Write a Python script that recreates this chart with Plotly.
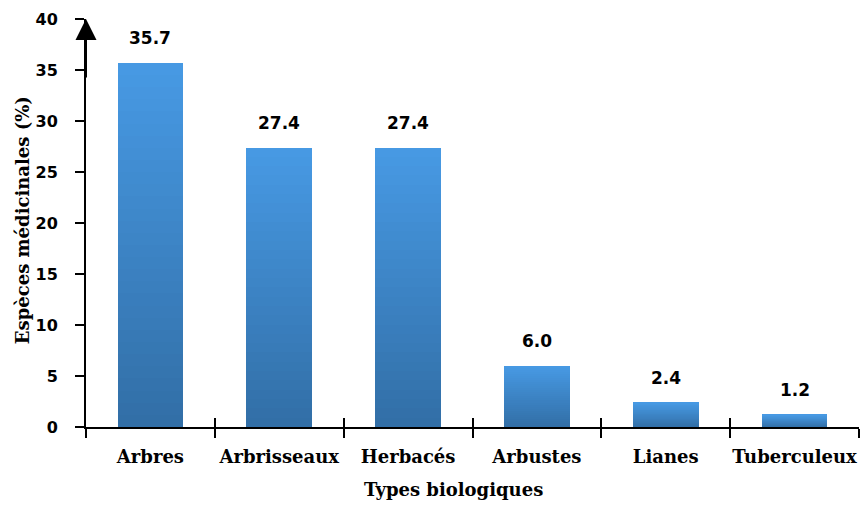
import plotly.graph_objects as go

# Biological types of the medicinal species and their share (%)
categories = ["Arbres", "Arbrisseaux", "Herbacés", "Arbustes", "Lianes", "Tuberculeux"]
shares = [35.7, 27.4, 27.4, 6.0, 2.4, 1.2]
y_ticks = [0, 5, 10, 15, 20, 25, 30, 35, 40]

TOP = (71, 153, 227)     # light blue at the top of each bar
BOTTOM = (50, 111, 167)  # darker blue at the bottom
N_STEPS = 30

fig = go.Figure()

# Each bar is built from stacked slices so the fill fades from dark to light blue
for k in range(N_STEPS):
    t = k / (N_STEPS - 1)
    rgb = tuple(round(b + (a - b) * t) for a, b in zip(TOP, BOTTOM))
    fig.add_trace(go.Bar(
        x=categories,
        y=[v / N_STEPS for v in shares],
        width=0.51,
        marker=dict(color="rgb(%d,%d,%d)" % rgb, line=dict(width=0)),
        showlegend=False,
        hoverinfo="skip",
    ))

# Invisible trace carrying the secondary x axis (inner half of the crossing ticks)
fig.add_trace(go.Scatter(x=categories, y=shares, xaxis="x2", mode="markers",
                         marker=dict(opacity=0), showlegend=False, hoverinfo="skip"))

# Value labels above each bar
for c, v in zip(categories, shares):
    fig.add_annotation(x=c, y=v, text="%.1f" % v, showarrow=False, yshift=25,
                       yanchor="middle",
                       font=dict(family="DejaVu Sans", size=17, color="black", weight="bold"))

# Arrow head on top of the vertical axis
fig.add_annotation(xref="paper", x=0, yref="y", y=40, ax=0, ay=60, axref="pixel", ayref="pixel",
                   showarrow=True, arrowhead=2, arrowsize=2.1, arrowwidth=2, arrowcolor="black",
                   text="")

# Axis titles
fig.add_annotation(xref="paper", yref="paper", x=0.476, y=-0.154, text="Types biologiques",
                   showarrow=False, xanchor="center", yanchor="middle",
                   font=dict(family="DejaVu Serif", size=18, color="black", weight="bold"))
fig.add_annotation(xref="paper", yref="paper", x=-0.0828, y=0.507, text="Espèces médicinales (%)",
                   showarrow=False, textangle=-90, xanchor="center", yanchor="middle",
                   font=dict(family="DejaVu Serif", size=18, color="black", weight="bold"))

fig.update_layout(
    width=860, height=507,
    margin=dict(l=86, r=1, t=19, b=80),
    paper_bgcolor="white", plot_bgcolor="white",
    barmode="stack",
    xaxis=dict(
        type="category", categoryorder="array", categoryarray=categories,
        showline=True, linecolor="black", linewidth=2,
        ticks="outside", tickson="boundaries", ticklen=9, tickwidth=2, tickcolor="black",
        showgrid=False, zeroline=False, tickangle=0, automargin=False,
        ticklabelstandoff=12,
        tickfont=dict(family="DejaVu Serif", size=18, color="black", weight="bold"),
    ),
    xaxis2=dict(
        type="category", categoryorder="array", categoryarray=categories,
        overlaying="x", matches="x", side="bottom", anchor="y",
        showline=False, ticks="inside", tickson="boundaries", ticklen=9, tickwidth=2,
        tickcolor="black", showticklabels=False, showgrid=False, zeroline=False,
        automargin=False,
    ),
    yaxis=dict(
        range=[0, 40], tickvals=y_ticks,
        showline=True, linecolor="black", linewidth=2,
        ticks="outside", ticklen=9, tickwidth=2, tickcolor="black",
        showgrid=False, zeroline=False, automargin=False,
        ticklabelstandoff=14,
        tickfont=dict(family="DejaVu Sans", size=16, color="black", weight="bold"),
    ),
    bargap=0.49,
)

fig.write_html("out.html")
